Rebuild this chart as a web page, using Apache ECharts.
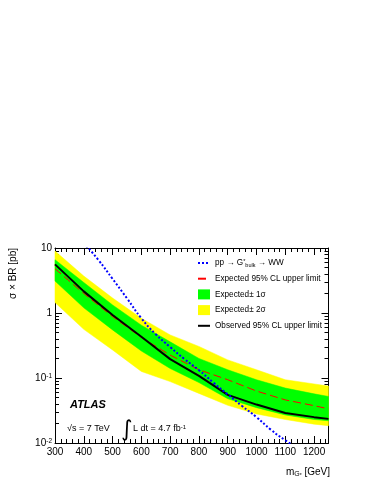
<!DOCTYPE html>
<html>
<head>
<meta charset="utf-8">
<script src="https://cdn.jsdelivr.net/npm/echarts@6/dist/echarts.min.js"></script>
<style>
  html, body { margin: 0; padding: 0; background: #fff; }
  #chart { width: 374px; height: 484px; }
</style>
</head>
<body>
<div id="chart"></div>
<script>
// graviton mass points (GeV)
var masses = [300, 400, 500, 600, 700, 800, 900, 1000, 1100, 1200, 1250];
// observed / expected 95% CL limits (pb)
var observed = [5.6, 2.15, 0.93, 0.43, 0.195, 0.108, 0.055, 0.039, 0.029, 0.025, 0.0235];
var expected = [4.8, 2.0, 0.88, 0.42, 0.225, 0.134, 0.094, 0.063, 0.046, 0.0375, 0.0335];
// bands
var sigma1Up = [6.6, 2.95, 1.33, 0.65, 0.36, 0.20, 0.134, 0.094, 0.070, 0.057, 0.052];
var sigma1Down = [3.1, 1.2, 0.55, 0.26, 0.14, 0.085, 0.048, 0.035, 0.027, 0.023, 0.022];
var sigma2Up = [9.0, 3.7, 1.7, 0.83, 0.46, 0.306, 0.19, 0.134, 0.094, 0.081, 0.075];
var sigma2Down = [1.45, 0.56, 0.27, 0.126, 0.088, 0.058, 0.038, 0.028, 0.023, 0.0195, 0.0185];
// pp -> G*bulk -> WW theory curve
var theoryMass = [400, 450, 500, 550, 600, 650, 700, 750, 800, 850, 900, 950, 1000, 1050, 1100, 1150];
var theoryXsec = [12, 6.6, 3.35, 1.68, 0.83, 0.47, 0.30, 0.195, 0.132, 0.085, 0.056, 0.037, 0.025, 0.016, 0.011, 0.008];

var yLabels = { '-2': '10{sup|-2}', '-1': '10{sup|-1}', '0': '1', '1': '10' };

function pairs(xs, ys) {
  var out = [];
  for (let i = 0; i < xs.length; i++) out.push([xs[i], ys[i]]);
  return out;
}
function triples(xs, up, down) {
  var out = [];
  for (let i = 0; i < xs.length; i++) out.push([xs[i], up[i], down[i]]);
  return out;
}

// whole band as one polygon, drawn on the first item
function bandSeries(name, color, up, down) {
  var data = triples(masses, up, down);
  return {
    name: name, type: 'custom', color: color,
    encode: { x: 0, y: [1, 2] },
    data: data,
    renderItem: function (params, api) {
      if (params.dataIndex !== 0) return null;
      var top = [], bottom = [];
      for (let i = 0; i < data.length; i++) {
        top.push(api.coord([data[i][0], data[i][1]]));
        bottom.unshift(api.coord([data[i][0], data[i][2]]));
      }
      return {
        type: 'polygon',
        shape: { points: top.concat(bottom) },
        style: { fill: color, stroke: color, lineWidth: 0.5 }
      };
    }
  };
}

// log minor ticks 2..9 per decade
var minorY = [];
[0.01, 0.1, 1].forEach(function (d) {
  for (let k = 2; k <= 9; k++) minorY.push(+(k * d).toPrecision(3));
});

var font = 'Liberation Sans';
var chart = echarts.init(document.getElementById('chart'), null, { renderer: 'canvas' });

var hidden = { opacity: 0 };
var tickMajor = { show: true, inside: true, length: 7, lineStyle: { color: '#000', width: 1 } };
var tickMinor = { show: true, inside: true, length: 4, lineStyle: { color: '#000', width: 1 } };

var option = {
  animation: false,
  backgroundColor: '#fff',
  textStyle: { fontFamily: font },
  grid: { left: 55, right: 45.5, top: 248, bottom: 41 },
  legend: {
    orient: 'vertical',
    left: 192,
    top: 253,
    itemWidth: 12,
    itemHeight: 10,
    itemGap: 5.7,
    textStyle: {
      fontFamily: font, fontSize: 8.2, color: '#000', lineHeight: 10,
      rich: {
        sup: { fontSize: 5.5, verticalAlign: 'top', lineHeight: 6, fontFamily: font },
        sub: { fontSize: 5.5, verticalAlign: 'bottom', lineHeight: 6, fontFamily: font }
      }
    },
    formatter: function (name) {
      if (name === 'theory') return 'pp \u2192 G{sup|*}{sub|bulk} \u2192 WW';
      return name;
    },
    data: [
      { name: 'theory', itemStyle: hidden },
      { name: 'Expected 95% CL upper limit', itemStyle: hidden },
      { name: 'Expected\u00b1 1\u03c3', icon: 'rect' },
      { name: 'Expected\u00b1 2\u03c3', icon: 'rect' },
      { name: 'Observed 95% CL upper limit', itemStyle: hidden }
    ]
  },
  xAxis: [{
    type: 'value', min: 300, max: 1250, interval: 100,
    axisLine: { lineStyle: { color: '#000' } },
    axisTick: tickMajor,
    minorTick: { show: true, splitNumber: 5, length: 4, lineStyle: { color: '#000' } },
    splitLine: { show: false },
    axisLabel: {
      color: '#000', fontSize: 10, margin: 4, fontFamily: font, showMaxLabel: false,
      formatter: function (v) { return String(v); }
    }
  }, {
    type: 'value', min: 300, max: 1250, interval: 100, position: 'top',
    axisLine: { lineStyle: { color: '#000' } },
    axisTick: tickMajor,
    minorTick: { show: true, splitNumber: 5, length: 4, lineStyle: { color: '#000' } },
    splitLine: { show: false },
    axisLabel: { show: false }
  }],
  yAxis: [{
    type: 'log', min: 0.01, max: 10, logBase: 10,
    axisLine: { lineStyle: { color: '#000' } },
    axisTick: tickMajor,
    splitLine: { show: false },
    axisLabel: {
      color: '#000', fontSize: 10, margin: 3, fontFamily: font,
      formatter: function (v) { return yLabels[String(Math.round(Math.log10(v)))]; },
      rich: { sup: { fontSize: 6.5, verticalAlign: 'top', lineHeight: 7, fontFamily: font } }
    }
  }, {
    type: 'log', min: 0.01, max: 10, position: 'left',
    axisLine: { show: false },
    axisTick: Object.assign({ customValues: minorY }, tickMinor),
    splitLine: { show: false },
    axisLabel: { show: false }
  }, {
    type: 'log', min: 0.01, max: 10, position: 'right',
    axisLine: { lineStyle: { color: '#000' } },
    axisTick: tickMajor,
    splitLine: { show: false },
    axisLabel: { show: false }
  }, {
    type: 'log', min: 0.01, max: 10, position: 'right',
    axisLine: { show: false },
    axisTick: Object.assign({ customValues: minorY }, tickMinor),
    splitLine: { show: false },
    axisLabel: { show: false }
  }],
  series: [
    bandSeries('Expected\u00b1 2\u03c3', '#ffff00', sigma2Up, sigma2Down),
    bandSeries('Expected\u00b1 1\u03c3', '#00ff00', sigma1Up, sigma1Down),
    {
      name: 'Expected 95% CL upper limit', type: 'line', symbol: 'none',
      color: '#ff0000',
      data: pairs(masses, expected),
      lineStyle: { color: '#ff0000', width: 1, type: [8, 4] }
    },
    {
      name: 'Observed 95% CL upper limit', type: 'line', symbol: 'none',
      color: '#000',
      data: pairs(masses, observed),
      lineStyle: { color: '#000', width: 2 }
    },
    {
      name: 'theory', type: 'line', symbol: 'none', smooth: true,
      color: '#0000ff',
      data: pairs(theoryMass, theoryXsec),
      lineStyle: { color: '#0000ff', width: 2, type: [2, 2] }
    }
  ],
  graphic: [
    {
      type: 'text', x: 13, y: 248, rotation: Math.PI / 2,
      style: { text: '\u03c3 \u00d7 BR [pb]', fontFamily: font, fontSize: 10, fill: '#000', align: 'right', verticalAlign: 'middle' }
    },
    {
      type: 'text', x: 330, y: 472,
      style: {
        text: 'm{sub|G}{sup|*} [GeV]', fontFamily: font, fontSize: 10, fill: '#000', align: 'right', verticalAlign: 'middle',
        rich: {
          sub: { fontSize: 7, verticalAlign: 'bottom', lineHeight: 8, fontFamily: font },
          sup: { fontSize: 5, verticalAlign: 'bottom', lineHeight: 12, fontFamily: font }
        }
      }
    },
    {
      type: 'text', x: 70, y: 405,
      style: { text: 'ATLAS', fontFamily: font, fontSize: 11, fontWeight: 'bold', fontStyle: 'italic', fill: '#000', verticalAlign: 'middle' }
    },
    {
      type: 'text', x: 67, y: 429,
      style: { text: '\u221as = 7 TeV', fontFamily: font, fontSize: 9, fill: '#000', verticalAlign: 'middle' }
    },
    {
      type: 'text', x: 121, y: 430,
      style: { text: '\u222b', fontFamily: 'DejaVu Sans', fontSize: 22, fill: '#000', verticalAlign: 'middle' }
    },
    {
      type: 'text', x: 133, y: 429,
      style: {
        text: 'L dt = 4.7 fb{sup|-1}', fontFamily: font, fontSize: 9, fill: '#000', verticalAlign: 'middle',
        rich: { sup: { fontSize: 6, verticalAlign: 'top', lineHeight: 6, fontFamily: font } }
      }
    }
  ]
};

chart.setOption(option);
</script>
</body>
</html>
